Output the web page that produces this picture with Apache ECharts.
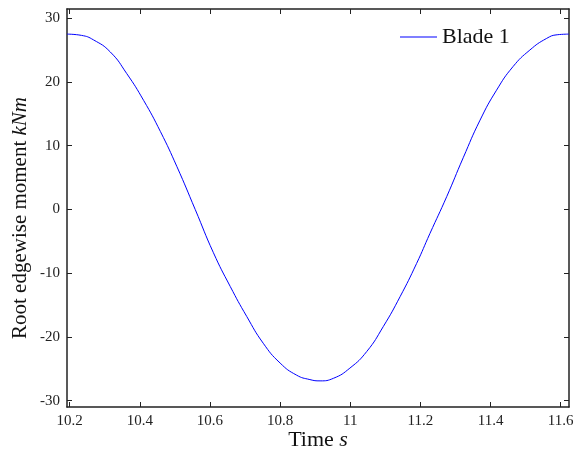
<!DOCTYPE html>
<html>
<head>
<meta charset="utf-8">
<script src="https://cdn.jsdelivr.net/npm/echarts@6/dist/echarts.min.js"></script>
<style>html,body{margin:0;padding:0;background:#fff}#c{width:575px;height:450px}</style>
</head>
<body>
<div id="c"></div>
<script>
var seriesName = 'Blade 1';
var timeValues = [10.193, 10.234, 10.268, 10.316, 10.363, 10.411, 10.459, 10.506, 10.558, 10.610, 10.658, 10.705, 10.752, 10.800, 10.847, 10.885, 10.914, 10.952, 10.999, 11.047, 11.094, 11.142, 11.189, 11.227, 11.275, 11.322, 11.370, 11.417, 11.464, 11.512, 11.559, 11.590, 11.623];
var momentValues = [27.5, 27.3, 26.6, 24.7, 21.3, 17.1, 12.2, 6.7, 0.0, -6.8, -12.1, -16.8, -21.0, -24.1, -26.0, -26.7, -26.9, -26.5, -24.9, -22.3, -18.4, -13.7, -8.5, -3.8, 2.0, 8.1, 14.0, 18.7, 22.4, 25.0, 26.8, 27.4, 27.5];
var xTicks = [10.2, 10.4, 10.6, 10.8, 11, 11.2, 11.4, 11.6];
var xTickLabels = ['10.2', '10.4', '10.6', '10.8', '11', '11.2', '11.4', '11.6'];
var yTicks = [-30, -20, -10, 0, 10, 20, 30];
var yTickLabels = ['-30', '-20', '-10', '0', '10', '20', '30'];

var data = timeValues.map(function (t, i) { return [t, momentValues[i]]; });
var serif = '"Liberation Serif", "DejaVu Serif", serif';
var X_MIN = 10.1926, X_MAX = 11.6236, Y_MIN = -31, Y_MAX = 31.44;
var lineStyle = { color: '#222', width: 1.5 };

function xLabel(v) {
  for (var i = 0; i < xTicks.length; i++) if (Math.abs(xTicks[i] - v) < 1e-6) return xTickLabels[i];
  return '';
}
function yLabel(v) {
  for (var i = 0; i < yTicks.length; i++) if (Math.abs(yTicks[i] - v) < 1e-6) return yTickLabels[i];
  return '';
}

var chart = echarts.init(document.getElementById('c'), null, { renderer: 'canvas' });
chart.setOption({
  animation: false,
  backgroundColor: '#fff',
  grid: { left: 67, right: 6, top: 9, bottom: 43, containLabel: false, outerBoundsMode: 'none' },
  legend: {
    data: [{ name: seriesName, icon: 'rect' }],
    left: 395, top: 21,
    itemWidth: 37, itemHeight: 1.2, itemGap: 4,
    textStyle: { fontFamily: serif, fontSize: 22, color: '#111' }
  },
  xAxis: [{
    type: 'value', min: X_MIN, max: X_MAX, position: 'bottom',
    name: '{n|Time }{i|s}', nameLocation: 'middle', nameGap: 22, nameMoveOverlap: false,
    nameTextStyle: { rich: {
      n: { fontFamily: serif, fontSize: 22, color: '#111' },
      i: { fontFamily: serif, fontSize: 22, fontStyle: 'italic', color: '#111' } } },
    axisLine: { show: true, onZero: false, lineStyle: lineStyle },
    axisTick: { show: true, inside: true, length: 5, customValues: xTicks, lineStyle: { color: '#222', width: 1 } },
    axisLabel: { show: true, customValues: xTicks, formatter: xLabel, fontFamily: serif, fontSize: 15, color: '#222', margin: 7 },
    splitLine: { show: false }
  }, {
    type: 'value', min: X_MIN, max: X_MAX, position: 'top',
    axisLine: { show: true, onZero: false, lineStyle: lineStyle },
    axisTick: { show: true, inside: true, length: 5, customValues: xTicks, lineStyle: { color: '#222', width: 1 } },
    axisLabel: { show: false },
    splitLine: { show: false }
  }],
  yAxis: [{
    type: 'value', min: Y_MIN, max: Y_MAX, position: 'left',
    name: '{n|Root edgewise moment }{i|kNm}', nameLocation: 'middle', nameGap: 36, nameRotate: 90, nameMoveOverlap: false,
    nameTextStyle: { padding: [0, 20, 0, 0], rich: {
      n: { fontFamily: serif, fontSize: 21, color: '#111' },
      i: { fontFamily: serif, fontSize: 21, fontStyle: 'italic', color: '#111' } } },
    axisLine: { show: true, onZero: false, lineStyle: lineStyle },
    axisTick: { show: true, inside: true, length: 5, customValues: yTicks, lineStyle: { color: '#222', width: 1 } },
    axisLabel: { show: true, customValues: yTicks, formatter: yLabel, fontFamily: serif, fontSize: 15, color: '#222', margin: 7 },
    splitLine: { show: false }
  }, {
    type: 'value', min: Y_MIN, max: Y_MAX, position: 'right',
    axisLine: { show: true, onZero: false, lineStyle: lineStyle },
    axisTick: { show: true, inside: true, length: 5, customValues: yTicks, lineStyle: { color: '#222', width: 1 } },
    axisLabel: { show: false },
    splitLine: { show: false }
  }],
  series: [{
    name: seriesName, type: 'line', data: data,
    xAxisIndex: 0, yAxisIndex: 0,
    showSymbol: false, symbol: 'none',
    smooth: 0.5,
    lineStyle: { color: '#0000ff', width: 1 },
    itemStyle: { color: '#0000ff' }
  }]
});
</script>
</body>
</html>
